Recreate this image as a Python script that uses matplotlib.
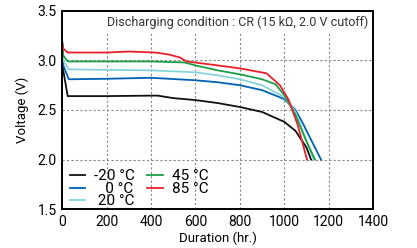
import matplotlib.pyplot as plt

plt.rcParams['font.family'] = ['Roboto', 'DejaVu Sans']

# discharge curves
t_m20 = [0, 5, 25, 200, 400, 430, 500, 600, 700, 800, 900, 1000, 1050, 1100, 1120]
v_m20 = [3.19, 2.90, 2.64, 2.64, 2.645, 2.645, 2.62, 2.60, 2.57, 2.53, 2.48, 2.38, 2.29, 2.12, 2.0]

t_0 = [0, 5, 30, 200, 400, 600, 700, 800, 900, 1000, 1050, 1080, 1120, 1165]
v_0 = [3.19, 2.95, 2.81, 2.815, 2.825, 2.80, 2.78, 2.75, 2.70, 2.61, 2.50, 2.38, 2.20, 2.0]

t_20 = [0, 5, 30, 200, 400, 600, 700, 800, 900, 1000, 1050, 1090, 1131]
v_20 = [3.19, 3.0, 2.91, 2.905, 2.90, 2.88, 2.85, 2.81, 2.75, 2.63, 2.48, 2.25, 2.0]

t_45 = [0, 5, 25, 200, 400, 550, 600, 700, 800, 900, 960, 1000, 1050, 1100, 1138]
v_45 = [3.19, 3.05, 2.99, 2.99, 2.99, 2.98, 2.95, 2.90, 2.86, 2.81, 2.76, 2.65, 2.45, 2.18, 2.0]

t_85 = [0, 5, 25, 200, 300, 420, 480, 530, 560, 700, 800, 920, 980, 1020, 1060, 1090, 1102]
v_85 = [3.19, 3.12, 3.08, 3.08, 3.09, 3.08, 3.06, 3.03, 2.99, 2.95, 2.92, 2.87, 2.75, 2.60, 2.35, 2.10, 2.0]

labels = ['-20 °C', '   0 °C', ' 20 °C', '45 °C', '85 °C']
colors = ['#111111', '#0062b4', '#86d4da', '#1a9e46', '#e8202a']

fig = plt.figure(figsize=(4.17, 2.48), dpi=100)
ax = fig.add_axes([0.149, 0.157, 0.746, 0.799])

series = [(t_m20, v_m20), (t_0, v_0), (t_20, v_20), (t_45, v_45), (t_85, v_85)]
for (t, v), lab, c in zip(series, labels, colors):
    ax.plot(t, v, color=c, linewidth=1.3, label=lab)

ax.set_xlim(0, 1400)
ax.set_ylim(1.5, 3.5)
ax.set_xticks([0, 200, 400, 600, 800, 1000, 1200, 1400])
ax.set_yticks([1.5, 2.0, 2.5, 3.0, 3.5])
ax.set_yticklabels(['1.5', '2.0', '2.5', '3.0', '3.5'])
ax.tick_params(length=0, labelsize=10, pad=4)
ax.grid(True, linestyle=(0, (2, 2)), color='#888888', linewidth=0.8)
for s in ax.spines.values():
    s.set_linewidth(1.4)
ax.set_xlabel('Duration (hr.)', fontsize=9.5, labelpad=2)
ax.set_ylabel('Voltage (V)', fontsize=9.5, labelpad=6)

ax.text(0.983, 0.945, 'Discharging condition : CR (15 kΩ, 2.0 V cutoff)',
        transform=ax.transAxes, ha='right', va='center', fontsize=9, color='#333333',
        bbox=dict(facecolor='white', edgecolor='none', pad=2.5), zorder=5)

ax.legend(loc='lower left', ncol=2, frameon=False, fontsize=11, handlelength=1.0,
          handletextpad=0.6, labelspacing=-0.1, columnspacing=0.8,
          borderaxespad=0.1, bbox_to_anchor=(0.0, -0.035))

fig.savefig('out.png', dpi=100)
